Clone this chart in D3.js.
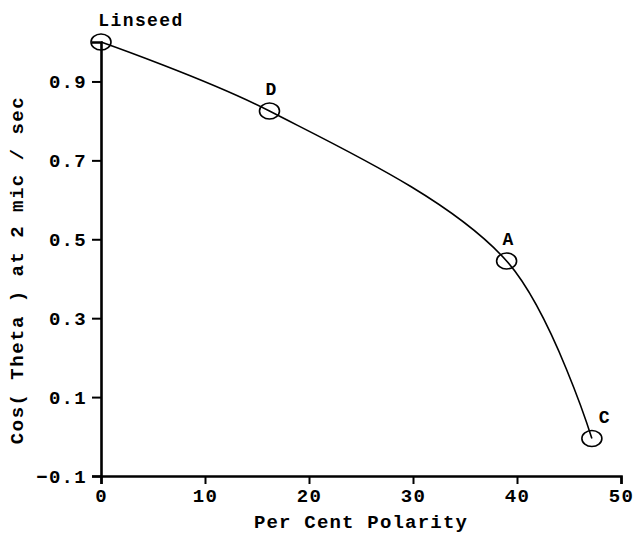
<!DOCTYPE html>
<html>
<head>
<meta charset="utf-8">
<script src="https://cdn.jsdelivr.net/npm/d3@7"></script>
<style>
  body { margin: 0; background: #fff; }
  svg text { font-family: "Liberation Mono", "DejaVu Sans Mono", monospace; font-weight: bold; fill: #000; }
</style>
</head>
<body>
<svg id="chart" width="637" height="535"></svg>
<script>
// samples on the curve
var names = ['Linseed', 'D', 'A', 'C'];
var polarity = [0, 16.2, 39.0, 47.2];
var cosTheta = [1.0, 0.825, 0.445, -0.005];

var xTicks = [0, 10, 20, 30, 40, 50];
var yTicks = [-0.1, 0.1, 0.3, 0.5, 0.7, 0.9];

var svg = d3.select('#chart');
var margin = {left: 101, right: 16, top: 42, bottom: 59};
var W = 637, H = 535;

var x = d3.scaleLinear().domain([0, 50]).range([margin.left, W - margin.right]);
var y = d3.scaleLinear().domain([-0.1, 1.0]).range([H - margin.bottom, margin.top]);

var pts = names.map(function(n, i) { return {name: n, x: polarity[i], y: cosTheta[i]}; });

// minor ticks first, majors drawn over them
var xMinor = d3.range(0, 50.01, 2);
var yMinor = d3.range(-0.1, 1.001, 0.05);

var gx = svg.append('g').attr('transform', 'translate(0,' + y(-0.1) + ')');
gx.call(d3.axisBottom(x).tickValues(xMinor).tickSize(5).tickFormat(''));
gx.call(d3.axisBottom(x).tickValues(xTicks).tickSize(8).tickPadding(3).tickFormat(d3.format('d')));

var gy = svg.append('g').attr('transform', 'translate(' + x(0) + ',0)');
gy.call(d3.axisLeft(y).tickValues(yMinor).tickSize(6).tickFormat(''));
gy.call(d3.axisLeft(y).tickValues(yTicks).tickSize(9).tickPadding(5).tickFormat(d3.format('.1f')));

svg.selectAll('.domain').attr('stroke-width', 2.6).attr('stroke', '#000');
svg.selectAll('.tick line').attr('stroke-width', 2).attr('stroke', '#000');
svg.selectAll('.tick text').style('font-size', '19px').style('letter-spacing', '1.3px');
gx.selectAll('.tick text').attr('dy', '0.8em');

svg.append('text')
  .attr('x', x(25)).attr('y', 528)
  .attr('text-anchor', 'middle')
  .style('font-size', '19px').style('letter-spacing', '1.2px')
  .text('Per Cent Polarity');

svg.append('text')
  .attr('transform', 'translate(23,' + 270 + ') rotate(-90)')
  .attr('text-anchor', 'middle')
  .style('font-size', '19px').style('letter-spacing', '1.5px')
  .text('Cos( Theta ) at 2 mic / sec');

var line = d3.line()
  .x(function(d) { return x(d.x); })
  .y(function(d) { return y(d.y); })
  .curve(d3.curveCatmullRom.alpha(0.5));

svg.append('path')
  .datum(pts)
  .attr('d', line)
  .attr('fill', 'none')
  .attr('stroke', '#000')
  .attr('stroke-width', 1.6);

svg.selectAll('ellipse.pt')
  .data(pts)
  .enter().append('ellipse')
  .attr('class', 'pt')
  .attr('cx', function(d) { return x(d.x); })
  .attr('cy', function(d) { return y(d.y); })
  .attr('rx', 10).attr('ry', 8)
  .attr('fill', 'none')
  .attr('stroke', '#000')
  .attr('stroke-width', 1.6);

var labelDx = {Linseed: 40, D: 2, A: 2, C: 13};
svg.selectAll('text.pt')
  .data(pts)
  .enter().append('text')
  .attr('class', 'pt')
  .attr('x', function(d) { return x(d.x) + labelDx[d.name]; })
  .attr('y', function(d) { return y(d.y) - 16; })
  .attr('text-anchor', 'middle')
  .style('font-size', '18px').style('letter-spacing', '1.4px')
  .text(function(d) { return d.name; });
</script>
</body>
</html>
